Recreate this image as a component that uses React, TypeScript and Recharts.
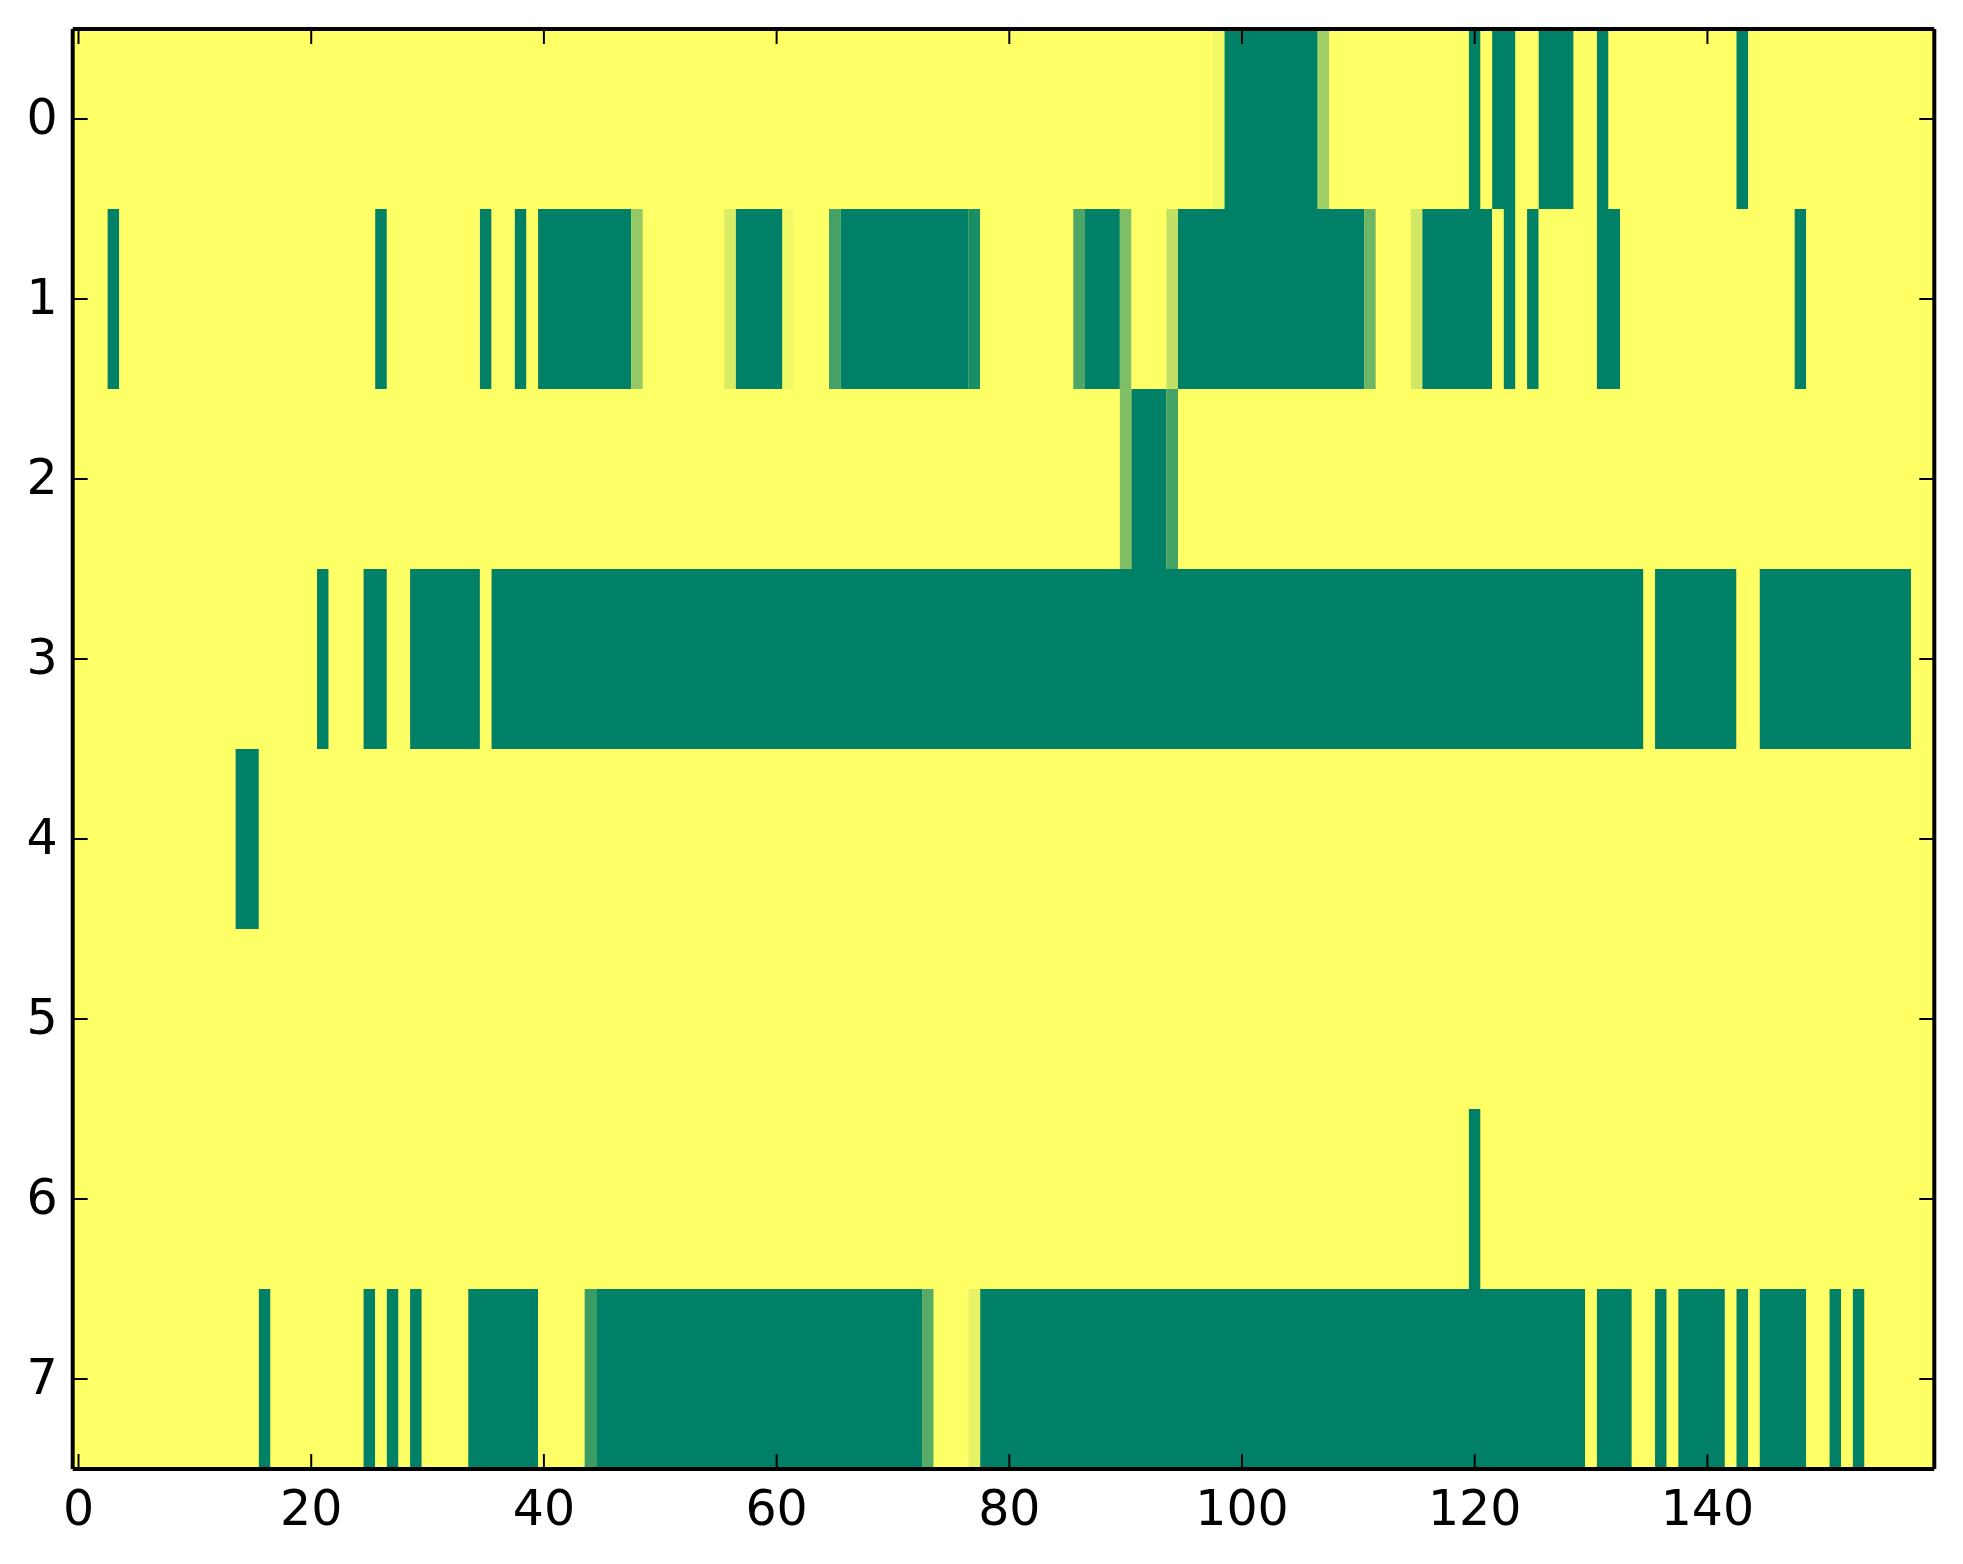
import { BarChart, Bar, XAxis, YAxis, Cell, CartesianGrid } from "recharts";

const COLUMN_COUNT = 160;

const rowLabels = ["0", "1", "2", "3", "4", "5", "6", "7"];
const xTickLabels = [0, 20, 40, 60, 80, 100, 120, 140];

// [firstColumn, lastColumn, level] — level 1 is the yellow end of the map, 0 the green end.
// Columns not listed are yellow.
const row0Spans = [
  [98, 98, 0.95], [99, 106, 0], [107, 107, 0.63], [120, 120, 0], [122, 123, 0],
  [126, 128, 0], [131, 131, 0], [143, 143, 0],
];
const row1Spans = [
  [3, 3, 0], [26, 26, 0], [35, 35, 0], [38, 38, 0], [40, 47, 0], [48, 48, 0.58],
  [56, 56, 0.85], [57, 60, 0], [61, 61, 0.95], [65, 65, 0.27], [66, 76, 0], [77, 77, 0.1],
  [86, 86, 0.3], [87, 89, 0], [90, 90, 0.49], [94, 94, 0.76], [95, 110, 0], [111, 111, 0.43],
  [115, 115, 0.82], [116, 121, 0], [123, 123, 0], [125, 125, 0], [131, 132, 0], [148, 148, 0],
];
const row2Spans = [[90, 90, 0.5], [91, 93, 0], [94, 94, 0.27]];
const row3Spans = [
  [21, 21, 0], [25, 26, 0], [29, 34, 0], [36, 134, 0], [136, 142, 0], [145, 157, 0],
];
const row4Spans = [[14, 15, 0]];
const row5Spans: number[][] = [];
const row6Spans = [[120, 120, 0]];
const row7Spans = [
  [16, 16, 0], [25, 25, 0], [27, 27, 0], [29, 29, 0], [34, 39, 0], [44, 44, 0.23],
  [45, 72, 0], [73, 73, 0.34], [77, 77, 0.9], [78, 129, 0], [131, 133, 0], [136, 136, 0],
  [138, 141, 0], [143, 143, 0], [145, 148, 0], [151, 151, 0], [153, 153, 0],
];

const allSpans = [row0Spans, row1Spans, row2Spans, row3Spans, row4Spans, row5Spans, row6Spans, row7Spans];

/** matplotlib "summer" colormap: 0 -> #008066, 1 -> #ffff66 */
function summerColor(level: number): string {
  const r = Math.round(255 * level);
  const g = Math.round(255 * (0.5 + 0.5 * level));
  return `rgb(${r}, ${g}, 102)`;
}

/** Expand spans into one level per column, then merge equal neighbours into runs */
function toRuns(spans: number[][]) {
  const levels: number[] = new Array(COLUMN_COUNT).fill(1);
  spans.forEach(([first, last, level]) => {
    for (let c = first; c <= last; c++) levels[c] = level;
  });
  const runs: { level: number; length: number }[] = [];
  levels.forEach((level) => {
    const prev = runs[runs.length - 1];
    if (prev && prev.level === level) prev.length += 1;
    else runs.push({ level, length: 1 });
  });
  return runs;
}

const rowRuns = allSpans.map(toRuns);
const runCount = Math.max(...rowRuns.map((r) => r.length));

const chartData = rowLabels.map((label, i) => {
  const entry: Record<string, string | number> = { row: label };
  rowRuns[i].forEach((run, k) => {
    entry[`r${k}`] = run.length;
  });
  return entry;
});

const W = 1947;
const H = 1548;
const FONT_SIZE = 49;
const TICK_LEN = 15;
const FRAME = { stroke: "#000", strokeWidth: 4 };
const YELLOW = summerColor(1);

// image columns sit on integers; the stack starts at 0, so shift by half a cell
const shiftedTicks = xTickLabels.map((v) => v + 0.5);

type TickProps = { x: number; y: number; payload: { value: number | string } };

/** inward tick marks (matplotlib classic style), label only where asked */
function makeTick(side: "bottom" | "top" | "left" | "right") {
  return function AxisTick({ x, y, payload }: TickProps) {
    const dx = side === "left" ? TICK_LEN : side === "right" ? -TICK_LEN : 0;
    const dy = side === "bottom" ? -TICK_LEN : side === "top" ? TICK_LEN : 0;
    let label = null;
    if (side === "bottom") {
      label = (
        <text x={x} y={y + 20 + 0.729 * FONT_SIZE} textAnchor="middle" fontSize={FONT_SIZE}
          fontFamily="DejaVu Sans" fill="#000">
          {String(Number(payload.value) - 0.5)}
        </text>
      );
    } else if (side === "left") {
      label = (
        <text x={x - 15} y={y + 15} textAnchor="end" fontSize={FONT_SIZE}
          fontFamily="DejaVu Sans" fill="#000">
          {payload.value}
        </text>
      );
    }
    return (
      <g>
        <line x1={x} y1={y} x2={x + dx} y2={y + dy} stroke="#000" strokeWidth={2} />
        {label}
      </g>
    );
  };
}

export default function App() {
  return (
    <div style={{ width: W, height: H }}>
      <BarChart
        width={W}
        height={H}
        data={chartData}
        layout="vertical"
        barCategoryGap={0}
        barGap={0}
        margin={{ top: 11, right: 10.7, bottom: 27, left: 14.7 }}
      >
        <CartesianGrid
          xAxisId="bottom"
          yAxisId="left"
          horizontal={false}
          vertical={false}
          fill={YELLOW}
          fillOpacity={1}
        />
        {Array.from({ length: runCount }, (_, k) => (
          <Bar
            key={`run-${k}`}
            dataKey={`r${k}`}
            stackId="cells"
            xAxisId="bottom"
            yAxisId="left"
            isAnimationActive={false}
          >
            {rowRuns.map((runs, i) => (
              <Cell
                key={`cell-${k}-${i}`}
                fill={runs[k] ? summerColor(runs[k].level) : "none"}
              />
            ))}
          </Bar>
        ))}

        <XAxis
          xAxisId="bottom"
          type="number"
          orientation="bottom"
          domain={[0, COLUMN_COUNT]}
          allowDataOverflow
          ticks={shiftedTicks}
          interval={0}
          height={60}
          tickSize={0}
          tickMargin={0}
          axisLine={FRAME}
          tickLine={false}
          tick={makeTick("bottom")}
        />
        <XAxis
          xAxisId="top"
          type="number"
          orientation="top"
          domain={[0, COLUMN_COUNT]}
          allowDataOverflow
          ticks={shiftedTicks}
          interval={0}
          height={10}
          tickSize={0}
          tickMargin={0}
          axisLine={FRAME}
          tickLine={false}
          tick={makeTick("top")}
        />
        <YAxis
          yAxisId="left"
          type="category"
          dataKey="row"
          orientation="left"
          width={50}
          interval={0}
          tickSize={0}
          tickMargin={0}
          axisLine={FRAME}
          tickLine={false}
          tick={makeTick("left")}
        />
        <YAxis
          yAxisId="right"
          type="category"
          dataKey="row"
          orientation="right"
          width={10}
          interval={0}
          tickSize={0}
          tickMargin={0}
          axisLine={FRAME}
          tickLine={false}
          tick={makeTick("right")}
        />
      </BarChart>
    </div>
  );
}
